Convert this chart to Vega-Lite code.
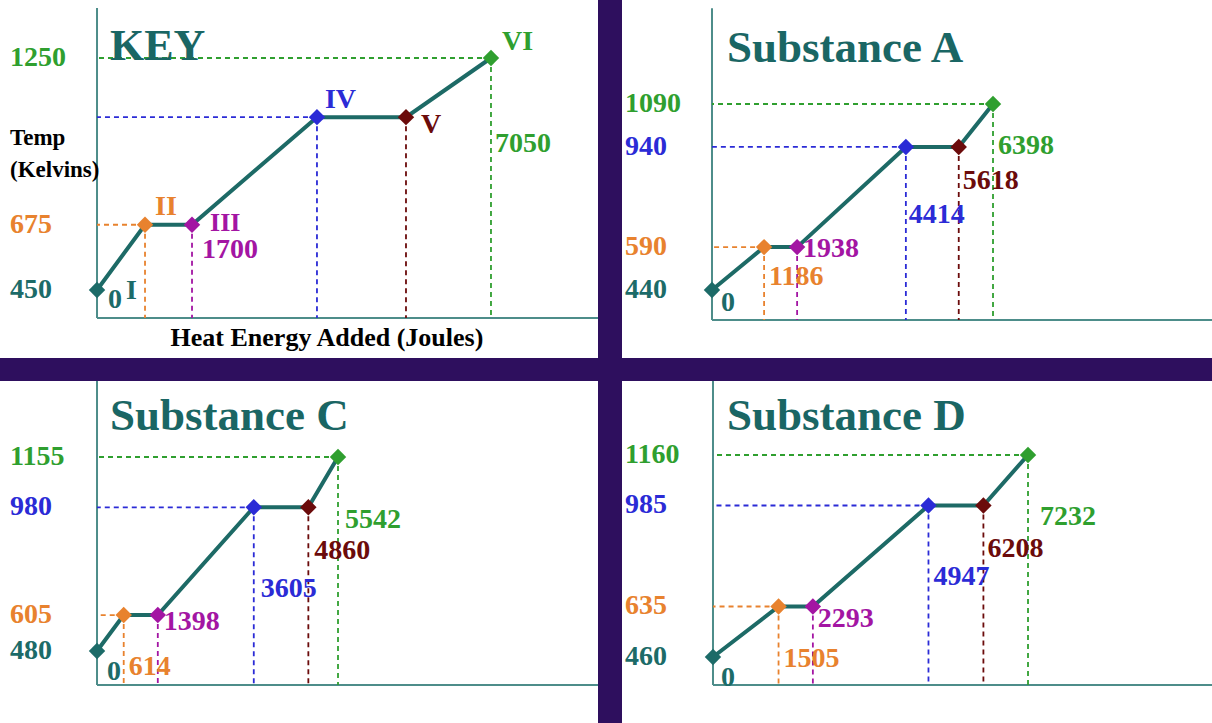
{
  "$schema": "https://vega.github.io/schema/vega-lite/v6.json",
  "background": "#2e0f5e",
  "padding": 0,
  "datasets": {
    "key": [
      {"stage": "I", "E": 0, "T": 450},
      {"stage": "II", "E": 859, "T": 675},
      {"stage": "III", "E": 1700, "T": 675},
      {"stage": "IV", "E": 3936, "T": 1046},
      {"stage": "V", "E": 5529, "T": 1046},
      {"stage": "VI", "E": 7050, "T": 1250}
    ],
    "a": [
      {"stage": "I", "E": 0, "T": 440},
      {"stage": "II", "E": 1186, "T": 590},
      {"stage": "III", "E": 1938, "T": 590},
      {"stage": "IV", "E": 4414, "T": 940},
      {"stage": "V", "E": 5618, "T": 940},
      {"stage": "VI", "E": 6398, "T": 1090}
    ],
    "c": [
      {"stage": "I", "E": 0, "T": 480},
      {"stage": "II", "E": 614, "T": 605},
      {"stage": "III", "E": 1398, "T": 605},
      {"stage": "IV", "E": 3605, "T": 980},
      {"stage": "V", "E": 4860, "T": 980},
      {"stage": "VI", "E": 5542, "T": 1155}
    ],
    "d": [
      {"stage": "I", "E": 0, "T": 460},
      {"stage": "II", "E": 1505, "T": 635},
      {"stage": "III", "E": 2293, "T": 635},
      {"stage": "IV", "E": 4947, "T": 985},
      {"stage": "V", "E": 6208, "T": 985},
      {"stage": "VI", "E": 7232, "T": 1160}
    ]
  },
  "columns": 2,
  "align": "each",
  "bounds": "flush",
  "spacing": {"row": 23, "column": 24},
  "resolve": {"scale": {"x": "independent", "y": "independent"}},
  "concat": [
    {
      "width": 598, "height": 358,
      "data": {"name": "key"},
      "layer": [
        {"data": {"values": [{}]}, "mark": {"type": "rule", "color": "#4d8d8a", "strokeWidth": 2},
         "encoding": {"x": {"datum": 0, "type": "quantitative", "scale": {"domain": [-1736, 8965], "nice": false, "zero": false}, "axis": null},
                      "y": {"datum": 353.4, "type": "quantitative", "scale": {"domain": [215.5, 1450], "nice": false, "zero": false}, "axis": null},
                      "y2": {"datum": 1422}}},
        {"data": {"values": [{}]}, "mark": {"type": "rule", "color": "#4d8d8a", "strokeWidth": 2},
         "encoding": {"x": {"datum": 0, "type": "quantitative"}, "x2": {"datum": 8965}, "y": {"datum": 353.4, "type": "quantitative"}}},
        {"transform": [{"filter": "datum.stage=='II'||datum.stage=='IV'||datum.stage=='VI'"}],
         "mark": {"type": "rule", "strokeDash": [5, 4], "strokeWidth": 1.8},
         "encoding": {"x": {"field": "E", "type": "quantitative"}, "x2": {"datum": 0}, "y": {"field": "T", "type": "quantitative"},
                      "color": {"field": "stage", "type": "nominal", "scale": {"domain": ["I","II","III","IV","V","VI"], "range": ["#1c6b68","#e8822e","#a315a3","#2b2bd6","#6b0b0b","#2f9f2f"]}, "legend": null}}},
        {"transform": [{"filter": "datum.stage!='I'"}],
         "mark": {"type": "rule", "strokeDash": [5, 4], "strokeWidth": 1.8},
         "encoding": {"x": {"field": "E", "type": "quantitative"}, "y": {"field": "T", "type": "quantitative"}, "y2": {"datum": 353.4},
                      "color": {"field": "stage", "type": "nominal", "legend": null}}},
        {"mark": {"type": "line", "color": "#1d6a66", "strokeWidth": 4},
         "encoding": {"x": {"field": "E", "type": "quantitative"}, "y": {"field": "T", "type": "quantitative"}, "order": {"field": "E"}}},
        {"mark": {"type": "point", "shape": "diamond", "filled": true, "size": 270, "opacity": 1},
         "encoding": {"x": {"field": "E", "type": "quantitative"}, "y": {"field": "T", "type": "quantitative"}, "color": {"field": "stage", "type": "nominal", "legend": null}}},
        {"transform": [{"filter": "datum.stage=='I'||datum.stage=='II'||datum.stage=='VI'"}],
         "mark": {"type": "text", "align": "left", "baseline": "middle", "dx": -87},
         "encoding": {"x": {"datum": 0, "type": "quantitative"}, "y": {"field": "T", "type": "quantitative"}, "text": {"field": "T", "type": "quantitative", "format": "d"}, "color": {"field": "stage", "type": "nominal", "legend": null}}},
        {"transform": [{"filter": "datum.stage=='I'"}], "mark": {"type": "text", "align": "left", "baseline": "middle", "dx": 11, "dy": 10},
         "encoding": {"x": {"field": "E", "type": "quantitative"}, "y": {"field": "T", "type": "quantitative"}, "text": {"field": "E", "type": "quantitative", "format": "d"}, "color": {"field": "stage", "type": "nominal", "legend": null}}},
        {"transform": [{"filter": "datum.stage=='I'"}], "mark": {"type": "text", "align": "left", "baseline": "middle", "dx": 29, "dy": 1},
         "encoding": {"x": {"field": "E", "type": "quantitative"}, "y": {"field": "T", "type": "quantitative"}, "text": {"field": "stage"}, "color": {"field": "stage", "type": "nominal", "legend": null}}},
        {"transform": [{"filter": "datum.stage=='II'"}], "mark": {"type": "text", "align": "left", "baseline": "middle", "dx": 10, "dy": -18},
         "encoding": {"x": {"field": "E", "type": "quantitative"}, "y": {"field": "T", "type": "quantitative"}, "text": {"field": "stage"}, "color": {"field": "stage", "type": "nominal", "legend": null}}},
        {"transform": [{"filter": "datum.stage=='III'"}], "mark": {"type": "text", "align": "left", "baseline": "middle", "dx": 18, "dy": -2, "fontSize": 26},
         "encoding": {"x": {"field": "E", "type": "quantitative"}, "y": {"field": "T", "type": "quantitative"}, "text": {"field": "stage"}, "color": {"field": "stage", "type": "nominal", "legend": null}}},
        {"transform": [{"filter": "datum.stage=='III'"}], "mark": {"type": "text", "align": "left", "baseline": "middle", "dx": 10, "dy": 25},
         "encoding": {"x": {"field": "E", "type": "quantitative"}, "y": {"field": "T", "type": "quantitative"}, "text": {"field": "E", "type": "quantitative", "format": "d"}, "color": {"field": "stage", "type": "nominal", "legend": null}}},
        {"transform": [{"filter": "datum.stage=='IV'"}], "mark": {"type": "text", "align": "left", "baseline": "middle", "dx": 8, "dy": -17},
         "encoding": {"x": {"field": "E", "type": "quantitative"}, "y": {"field": "T", "type": "quantitative"}, "text": {"field": "stage"}, "color": {"field": "stage", "type": "nominal", "legend": null}}},
        {"transform": [{"filter": "datum.stage=='V'"}], "mark": {"type": "text", "align": "left", "baseline": "middle", "dx": 15, "dy": 8},
         "encoding": {"x": {"field": "E", "type": "quantitative"}, "y": {"field": "T", "type": "quantitative"}, "text": {"field": "stage"}, "color": {"field": "stage", "type": "nominal", "legend": null}}},
        {"transform": [{"filter": "datum.stage=='VI'"}], "mark": {"type": "text", "align": "left", "baseline": "middle", "dx": 11, "dy": -16},
         "encoding": {"x": {"field": "E", "type": "quantitative"}, "y": {"field": "T", "type": "quantitative"}, "text": {"field": "stage"}, "color": {"field": "stage", "type": "nominal", "legend": null}}},
        {"transform": [{"filter": "datum.stage=='VI'"}], "mark": {"type": "text", "align": "left", "baseline": "middle", "dx": 4, "dy": 86},
         "encoding": {"x": {"field": "E", "type": "quantitative"}, "y": {"field": "T", "type": "quantitative"}, "text": {"field": "E", "type": "quantitative", "format": "d"}, "color": {"field": "stage", "type": "nominal", "legend": null}}},
        {"data": {"values": [{}]}, "mark": {"type": "text", "align": "left", "baseline": "alphabetic", "dx": 13, "dy": 60, "fontSize": 44, "color": "#1a6664"},
         "encoding": {"x": {"datum": 0, "type": "quantitative"}, "y": {"datum": 1450, "type": "quantitative"}, "text": {"value": "KEY"}}},
        {"data": {"values": [{}]}, "mark": {"type": "text", "align": "left", "baseline": "top", "dx": -87, "dy": 127, "fontSize": 23, "color": "black", "lineBreak": "\n", "lineHeight": 32},
         "encoding": {"x": {"datum": 0, "type": "quantitative"}, "y": {"datum": 1450, "type": "quantitative"}, "text": {"value": "Temp\n(Kelvins)"}}},
        {"data": {"values": [{}]}, "mark": {"type": "text", "align": "center", "baseline": "middle", "dy": 20, "fontSize": 26, "color": "black"},
         "encoding": {"x": {"datum": 4115, "type": "quantitative"}, "y": {"datum": 353.4, "type": "quantitative"}, "text": {"value": "Heat Energy Added (Joules)"}}}
      ]
    },
    {
      "width": 590, "height": 358,
      "data": {"name": "a"},
      "layer": [
        {"data": {"values": [{}]}, "mark": {"type": "rule", "color": "#4d8d8a", "strokeWidth": 2},
         "encoding": {"x": {"datum": 0, "type": "quantitative", "scale": {"domain": [-2049, 11384], "nice": false, "zero": false}, "axis": null},
                      "y": {"datum": 335.3, "type": "quantitative", "scale": {"domain": [202.5, 1453.4], "nice": false, "zero": false}, "axis": null},
                      "y2": {"datum": 1425}}},
        {"data": {"values": [{}]}, "mark": {"type": "rule", "color": "#4d8d8a", "strokeWidth": 2},
         "encoding": {"x": {"datum": 0, "type": "quantitative"}, "x2": {"datum": 11384}, "y": {"datum": 335.3, "type": "quantitative"}}},
        {"transform": [{"filter": "datum.stage=='II'||datum.stage=='IV'||datum.stage=='VI'"}],
         "mark": {"type": "rule", "strokeDash": [5, 4], "strokeWidth": 1.8},
         "encoding": {"x": {"field": "E", "type": "quantitative"}, "x2": {"datum": 0}, "y": {"field": "T", "type": "quantitative"},
                      "color": {"field": "stage", "type": "nominal", "scale": {"domain": ["I","II","III","IV","V","VI"], "range": ["#1c6b68","#e8822e","#a315a3","#2b2bd6","#6b0b0b","#2f9f2f"]}, "legend": null}}},
        {"transform": [{"filter": "datum.stage!='I'"}],
         "mark": {"type": "rule", "strokeDash": [5, 4], "strokeWidth": 1.8},
         "encoding": {"x": {"field": "E", "type": "quantitative"}, "y": {"field": "T", "type": "quantitative"}, "y2": {"datum": 335.3},
                      "color": {"field": "stage", "type": "nominal", "legend": null}}},
        {"mark": {"type": "line", "color": "#1d6a66", "strokeWidth": 4},
         "encoding": {"x": {"field": "E", "type": "quantitative"}, "y": {"field": "T", "type": "quantitative"}, "order": {"field": "E"}}},
        {"mark": {"type": "point", "shape": "diamond", "filled": true, "size": 270, "opacity": 1},
         "encoding": {"x": {"field": "E", "type": "quantitative"}, "y": {"field": "T", "type": "quantitative"}, "color": {"field": "stage", "type": "nominal", "legend": null}}},
        {"transform": [{"filter": "datum.stage=='I'||datum.stage=='II'||datum.stage=='IV'||datum.stage=='VI'"}],
         "mark": {"type": "text", "align": "left", "baseline": "middle", "dx": -87},
         "encoding": {"x": {"datum": 0, "type": "quantitative"}, "y": {"field": "T", "type": "quantitative"}, "text": {"field": "T", "type": "quantitative", "format": "d"}, "color": {"field": "stage", "type": "nominal", "legend": null}}},
        {"transform": [{"filter": "datum.stage=='I'"}], "mark": {"type": "text", "align": "left", "baseline": "middle", "dx": 9, "dy": 13},
         "encoding": {"x": {"field": "E", "type": "quantitative"}, "y": {"field": "T", "type": "quantitative"}, "text": {"field": "E", "type": "quantitative", "format": "d"}, "color": {"field": "stage", "type": "nominal", "legend": null}}},
        {"transform": [{"filter": "datum.stage=='II'"}], "mark": {"type": "text", "align": "left", "baseline": "middle", "dx": 5, "dy": 30},
         "encoding": {"x": {"field": "E", "type": "quantitative"}, "y": {"field": "T", "type": "quantitative"}, "text": {"field": "E", "type": "quantitative", "format": "d"}, "color": {"field": "stage", "type": "nominal", "legend": null}}},
        {"transform": [{"filter": "datum.stage=='III'"}], "mark": {"type": "text", "align": "left", "baseline": "middle", "dx": 6, "dy": 2},
         "encoding": {"x": {"field": "E", "type": "quantitative"}, "y": {"field": "T", "type": "quantitative"}, "text": {"field": "E", "type": "quantitative", "format": "d"}, "color": {"field": "stage", "type": "nominal", "legend": null}}},
        {"transform": [{"filter": "datum.stage=='IV'"}], "mark": {"type": "text", "align": "left", "baseline": "middle", "dx": 3, "dy": 68},
         "encoding": {"x": {"field": "E", "type": "quantitative"}, "y": {"field": "T", "type": "quantitative"}, "text": {"field": "E", "type": "quantitative", "format": "d"}, "color": {"field": "stage", "type": "nominal", "legend": null}}},
        {"transform": [{"filter": "datum.stage=='V'"}], "mark": {"type": "text", "align": "left", "baseline": "middle", "dx": 4, "dy": 34},
         "encoding": {"x": {"field": "E", "type": "quantitative"}, "y": {"field": "T", "type": "quantitative"}, "text": {"field": "E", "type": "quantitative", "format": "d"}, "color": {"field": "stage", "type": "nominal", "legend": null}}},
        {"transform": [{"filter": "datum.stage=='VI'"}], "mark": {"type": "text", "align": "left", "baseline": "middle", "dx": 5, "dy": 42},
         "encoding": {"x": {"field": "E", "type": "quantitative"}, "y": {"field": "T", "type": "quantitative"}, "text": {"field": "E", "type": "quantitative", "format": "d"}, "color": {"field": "stage", "type": "nominal", "legend": null}}},
        {"data": {"values": [{}]}, "mark": {"type": "text", "align": "left", "baseline": "alphabetic", "dx": 15, "dy": 62, "fontSize": 45, "color": "#1a6664"},
         "encoding": {"x": {"datum": 0, "type": "quantitative"}, "y": {"datum": 1453.4, "type": "quantitative"}, "text": {"value": "Substance A"}}}
      ]
    },
    {
      "width": 598, "height": 342,
      "data": {"name": "c"},
      "layer": [
        {"data": {"values": [{}]}, "mark": {"type": "rule", "color": "#4d8d8a", "strokeWidth": 2},
         "encoding": {"x": {"datum": 0, "type": "quantitative", "scale": {"domain": [-2231, 11521], "nice": false, "zero": false}, "axis": null},
                      "y": {"datum": 361.6, "type": "quantitative", "scale": {"domain": [229.4, 1419.4], "nice": false, "zero": false}, "axis": null},
                      "y2": {"datum": 1419.4}}},
        {"data": {"values": [{}]}, "mark": {"type": "rule", "color": "#4d8d8a", "strokeWidth": 2},
         "encoding": {"x": {"datum": 0, "type": "quantitative"}, "x2": {"datum": 11521}, "y": {"datum": 361.6, "type": "quantitative"}}},
        {"transform": [{"filter": "datum.stage=='II'||datum.stage=='IV'||datum.stage=='VI'"}],
         "mark": {"type": "rule", "strokeDash": [5, 4], "strokeWidth": 1.8},
         "encoding": {"x": {"field": "E", "type": "quantitative"}, "x2": {"datum": 0}, "y": {"field": "T", "type": "quantitative"},
                      "color": {"field": "stage", "type": "nominal", "scale": {"domain": ["I","II","III","IV","V","VI"], "range": ["#1c6b68","#e8822e","#a315a3","#2b2bd6","#6b0b0b","#2f9f2f"]}, "legend": null}}},
        {"transform": [{"filter": "datum.stage!='I'"}],
         "mark": {"type": "rule", "strokeDash": [5, 4], "strokeWidth": 1.8},
         "encoding": {"x": {"field": "E", "type": "quantitative"}, "y": {"field": "T", "type": "quantitative"}, "y2": {"datum": 361.6},
                      "color": {"field": "stage", "type": "nominal", "legend": null}}},
        {"mark": {"type": "line", "color": "#1d6a66", "strokeWidth": 4},
         "encoding": {"x": {"field": "E", "type": "quantitative"}, "y": {"field": "T", "type": "quantitative"}, "order": {"field": "E"}}},
        {"mark": {"type": "point", "shape": "diamond", "filled": true, "size": 270, "opacity": 1},
         "encoding": {"x": {"field": "E", "type": "quantitative"}, "y": {"field": "T", "type": "quantitative"}, "color": {"field": "stage", "type": "nominal", "legend": null}}},
        {"transform": [{"filter": "datum.stage=='I'||datum.stage=='II'||datum.stage=='IV'||datum.stage=='VI'"}],
         "mark": {"type": "text", "align": "left", "baseline": "middle", "dx": -87},
         "encoding": {"x": {"datum": 0, "type": "quantitative"}, "y": {"field": "T", "type": "quantitative"}, "text": {"field": "T", "type": "quantitative", "format": "d"}, "color": {"field": "stage", "type": "nominal", "legend": null}}},
        {"transform": [{"filter": "datum.stage=='I'"}], "mark": {"type": "text", "align": "left", "baseline": "middle", "dx": 10, "dy": 21},
         "encoding": {"x": {"field": "E", "type": "quantitative"}, "y": {"field": "T", "type": "quantitative"}, "text": {"field": "E", "type": "quantitative", "format": "d"}, "color": {"field": "stage", "type": "nominal", "legend": null}}},
        {"transform": [{"filter": "datum.stage=='II'"}], "mark": {"type": "text", "align": "left", "baseline": "middle", "dx": 5, "dy": 52},
         "encoding": {"x": {"field": "E", "type": "quantitative"}, "y": {"field": "T", "type": "quantitative"}, "text": {"field": "E", "type": "quantitative", "format": "d"}, "color": {"field": "stage", "type": "nominal", "legend": null}}},
        {"transform": [{"filter": "datum.stage=='III'"}], "mark": {"type": "text", "align": "left", "baseline": "middle", "dx": 6, "dy": 7},
         "encoding": {"x": {"field": "E", "type": "quantitative"}, "y": {"field": "T", "type": "quantitative"}, "text": {"field": "E", "type": "quantitative", "format": "d"}, "color": {"field": "stage", "type": "nominal", "legend": null}}},
        {"transform": [{"filter": "datum.stage=='IV'"}], "mark": {"type": "text", "align": "left", "baseline": "middle", "dx": 7, "dy": 82},
         "encoding": {"x": {"field": "E", "type": "quantitative"}, "y": {"field": "T", "type": "quantitative"}, "text": {"field": "E", "type": "quantitative", "format": "d"}, "color": {"field": "stage", "type": "nominal", "legend": null}}},
        {"transform": [{"filter": "datum.stage=='V'"}], "mark": {"type": "text", "align": "left", "baseline": "middle", "dx": 6, "dy": 44},
         "encoding": {"x": {"field": "E", "type": "quantitative"}, "y": {"field": "T", "type": "quantitative"}, "text": {"field": "E", "type": "quantitative", "format": "d"}, "color": {"field": "stage", "type": "nominal", "legend": null}}},
        {"transform": [{"filter": "datum.stage=='VI'"}], "mark": {"type": "text", "align": "left", "baseline": "middle", "dx": 7, "dy": 63},
         "encoding": {"x": {"field": "E", "type": "quantitative"}, "y": {"field": "T", "type": "quantitative"}, "text": {"field": "E", "type": "quantitative", "format": "d"}, "color": {"field": "stage", "type": "nominal", "legend": null}}},
        {"data": {"values": [{}]}, "mark": {"type": "text", "align": "left", "baseline": "alphabetic", "dx": 13, "dy": 49, "fontSize": 45, "color": "#1a6664"},
         "encoding": {"x": {"datum": 0, "type": "quantitative"}, "y": {"datum": 1419.4, "type": "quantitative"}, "text": {"value": "Substance C"}}}
      ]
    },
    {
      "width": 590, "height": 342,
      "data": {"name": "d"},
      "layer": [
        {"data": {"values": [{}]}, "mark": {"type": "rule", "color": "#4d8d8a", "strokeWidth": 2},
         "encoding": {"x": {"datum": 0, "type": "quantitative", "scale": {"domain": [-2089, 11456], "nice": false, "zero": false}, "axis": null},
                      "y": {"datum": 362.9, "type": "quantitative", "scale": {"domain": [231.3, 1416.4], "nice": false, "zero": false}, "axis": null},
                      "y2": {"datum": 1416.4}}},
        {"data": {"values": [{}]}, "mark": {"type": "rule", "color": "#4d8d8a", "strokeWidth": 2},
         "encoding": {"x": {"datum": 0, "type": "quantitative"}, "x2": {"datum": 11456}, "y": {"datum": 362.9, "type": "quantitative"}}},
        {"transform": [{"filter": "datum.stage=='II'||datum.stage=='IV'||datum.stage=='VI'"}],
         "mark": {"type": "rule", "strokeDash": [5, 4], "strokeWidth": 1.8},
         "encoding": {"x": {"field": "E", "type": "quantitative"}, "x2": {"datum": 0}, "y": {"field": "T", "type": "quantitative"},
                      "color": {"field": "stage", "type": "nominal", "scale": {"domain": ["I","II","III","IV","V","VI"], "range": ["#1c6b68","#e8822e","#a315a3","#2b2bd6","#6b0b0b","#2f9f2f"]}, "legend": null}}},
        {"transform": [{"filter": "datum.stage!='I'"}],
         "mark": {"type": "rule", "strokeDash": [5, 4], "strokeWidth": 1.8},
         "encoding": {"x": {"field": "E", "type": "quantitative"}, "y": {"field": "T", "type": "quantitative"}, "y2": {"datum": 362.9},
                      "color": {"field": "stage", "type": "nominal", "legend": null}}},
        {"mark": {"type": "line", "color": "#1d6a66", "strokeWidth": 4},
         "encoding": {"x": {"field": "E", "type": "quantitative"}, "y": {"field": "T", "type": "quantitative"}, "order": {"field": "E"}}},
        {"mark": {"type": "point", "shape": "diamond", "filled": true, "size": 270, "opacity": 1},
         "encoding": {"x": {"field": "E", "type": "quantitative"}, "y": {"field": "T", "type": "quantitative"}, "color": {"field": "stage", "type": "nominal", "legend": null}}},
        {"transform": [{"filter": "datum.stage=='I'||datum.stage=='II'||datum.stage=='IV'||datum.stage=='VI'"}],
         "mark": {"type": "text", "align": "left", "baseline": "middle", "dx": -88},
         "encoding": {"x": {"datum": 0, "type": "quantitative"}, "y": {"field": "T", "type": "quantitative"}, "text": {"field": "T", "type": "quantitative", "format": "d"}, "color": {"field": "stage", "type": "nominal", "legend": null}}},
        {"transform": [{"filter": "datum.stage=='I'"}], "mark": {"type": "text", "align": "left", "baseline": "middle", "dx": 8, "dy": 21},
         "encoding": {"x": {"field": "E", "type": "quantitative"}, "y": {"field": "T", "type": "quantitative"}, "text": {"field": "E", "type": "quantitative", "format": "d"}, "color": {"field": "stage", "type": "nominal", "legend": null}}},
        {"transform": [{"filter": "datum.stage=='II'"}], "mark": {"type": "text", "align": "left", "baseline": "middle", "dx": 5, "dy": 53},
         "encoding": {"x": {"field": "E", "type": "quantitative"}, "y": {"field": "T", "type": "quantitative"}, "text": {"field": "E", "type": "quantitative", "format": "d"}, "color": {"field": "stage", "type": "nominal", "legend": null}}},
        {"transform": [{"filter": "datum.stage=='III'"}], "mark": {"type": "text", "align": "left", "baseline": "middle", "dx": 5, "dy": 13},
         "encoding": {"x": {"field": "E", "type": "quantitative"}, "y": {"field": "T", "type": "quantitative"}, "text": {"field": "E", "type": "quantitative", "format": "d"}, "color": {"field": "stage", "type": "nominal", "legend": null}}},
        {"transform": [{"filter": "datum.stage=='IV'"}], "mark": {"type": "text", "align": "left", "baseline": "middle", "dx": 5, "dy": 72},
         "encoding": {"x": {"field": "E", "type": "quantitative"}, "y": {"field": "T", "type": "quantitative"}, "text": {"field": "E", "type": "quantitative", "format": "d"}, "color": {"field": "stage", "type": "nominal", "legend": null}}},
        {"transform": [{"filter": "datum.stage=='V'"}], "mark": {"type": "text", "align": "left", "baseline": "middle", "dx": 4, "dy": 44},
         "encoding": {"x": {"field": "E", "type": "quantitative"}, "y": {"field": "T", "type": "quantitative"}, "text": {"field": "E", "type": "quantitative", "format": "d"}, "color": {"field": "stage", "type": "nominal", "legend": null}}},
        {"transform": [{"filter": "datum.stage=='VI'"}], "mark": {"type": "text", "align": "left", "baseline": "middle", "dx": 12, "dy": 62},
         "encoding": {"x": {"field": "E", "type": "quantitative"}, "y": {"field": "T", "type": "quantitative"}, "text": {"field": "E", "type": "quantitative", "format": "d"}, "color": {"field": "stage", "type": "nominal", "legend": null}}},
        {"data": {"values": [{}]}, "mark": {"type": "text", "align": "left", "baseline": "alphabetic", "dx": 14, "dy": 49, "fontSize": 45, "color": "#1a6664"},
         "encoding": {"x": {"datum": 0, "type": "quantitative"}, "y": {"datum": 1416.4, "type": "quantitative"}, "text": {"value": "Substance D"}}}
      ]
    }
  ],
  "config": {
    "view": {"stroke": null, "fill": "white"},
    "text": {"font": "Liberation Serif", "fontWeight": "bold", "fontSize": 28}
  }
}
